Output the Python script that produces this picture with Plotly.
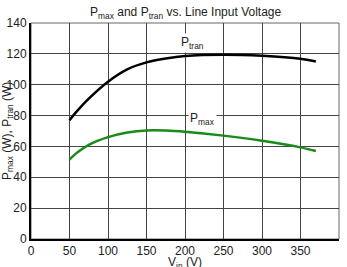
import plotly.graph_objects as go

vin = [50, 60, 75, 100, 125, 150, 175, 200, 250, 300, 350, 370]
p_tran = [77, 83, 91, 102, 110, 114.5, 117, 118.6, 119.4, 118.7, 116.8, 115]
p_max = [51.5, 56, 61, 66, 69, 70.4, 70.3, 69.5, 67, 63.7, 59.4, 57]

fig = go.Figure()
fig.add_trace(go.Scatter(x=vin, y=p_tran, mode="lines", line=dict(color="black", width=2.5, shape="spline", smoothing=0.8), showlegend=False))
fig.add_trace(go.Scatter(x=vin, y=p_max, mode="lines", line=dict(color="#1a8a1a", width=2.5, shape="spline", smoothing=0.8), showlegend=False))

font = "Arial, Liberation Sans, sans-serif"
fig.add_annotation(x=210, y=127, text="P<sub>tran</sub>", showarrow=False, bgcolor="white",
                   font=dict(family=font, size=12, color="#222"))
fig.add_annotation(x=223, y=77.5, text="P<sub>max</sub>", showarrow=False, bgcolor="white",
                   font=dict(family=font, size=12, color="#222"))
fig.add_annotation(xref="paper", yref="paper", x=-0.075, y=0.5, xanchor="center", yanchor="middle",
                   text="P<sub>max</sub> (W), P<sub>tran</sub> (W)",
                   textangle=-90, showarrow=False, font=dict(family=font, size=12, color="#222"))
fig.add_annotation(xref="paper", yref="paper", x=0.5, y=-0.112, xanchor="center", yanchor="middle",
                   text="V<sub>in</sub> (V)",
                   showarrow=False, font=dict(family=font, size=12, color="#222"))

fig.update_layout(
    width=347, height=267,
    margin=dict(l=31, r=8, t=23, b=28),
    paper_bgcolor="white", plot_bgcolor="white",
    font=dict(family=font, size=12, color="#222"),
    title=dict(text="P<sub>max</sub> and P<sub>tran</sub> vs. Line Input Voltage", x=0.535, xanchor="center",
               y=0.955, yanchor="middle", font=dict(size=12)),
    xaxis=dict(range=[0, 400], dtick=50, showgrid=True, gridcolor="#444", gridwidth=1,
               showline=True, linecolor="black", linewidth=2, mirror=False, zeroline=False,
               ticks="", tickfont=dict(size=12), automargin=False, ticklabelstandoff=0),
    yaxis=dict(range=[0, 140], dtick=20, showgrid=True, gridcolor="#444", gridwidth=1,
               showline=True, linecolor="black", linewidth=2, zeroline=False,
               ticks="", tickfont=dict(size=12), automargin=False, ticklabelstandoff=0),
)
fig.add_shape(type="rect", xref="paper", yref="paper", x0=0, y0=0, x1=1, y1=1,
              line=dict(color="#666", width=1), layer="below")
fig.write_html("out.html")
